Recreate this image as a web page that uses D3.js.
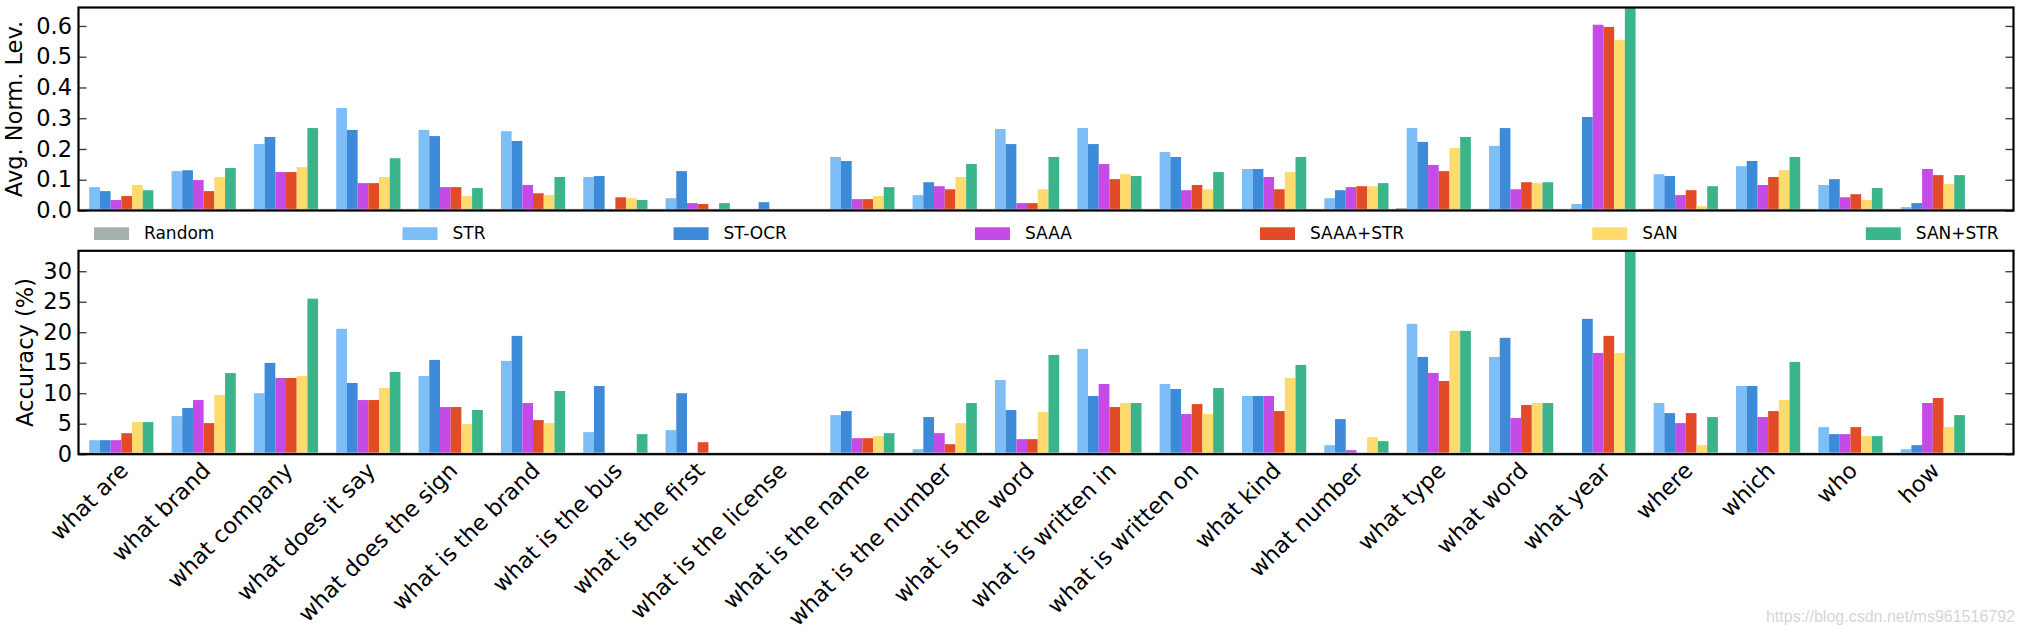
<!DOCTYPE html>
<html>
<head>
<meta charset="utf-8">
<script src="https://cdn.jsdelivr.net/npm/d3@7"></script>
<style>
  body { margin: 0; background: #fff; }
  svg { display: block; font-family: "DejaVu Sans", sans-serif; }
</style>
</head>
<body>
<svg width="2023" height="634"></svg>
<script>
const categories = ["what are", "what brand", "what company", "what does it say", "what does the sign",
  "what is the brand", "what is the bus", "what is the first", "what is the license", "what is the name",
  "what is the number", "what is the word", "what is written in", "what is written on", "what kind",
  "what number", "what type", "what word", "what year", "where", "which", "who", "how"];

const methods = ["Random", "STR", "ST-OCR", "SAAA", "SAAA+STR", "SAN", "SAN+STR"];
const colors = ["#a5b0ad", "#7cbef5", "#3d8bd8", "#c54be6", "#e24a28", "#fedb6c", "#3cb48a"];

// Avg. Norm. Levenshtein (top panel)
const levRandom  = [0, 0, 0, 0, 0, 0, 0, 0, 0, 0.003, 0, 0, 0, 0, 0, 0, 0.008, 0, 0, 0, 0, 0, 0];
const levSTR     = [0.076, 0.128, 0.216, 0.333, 0.262, 0.258, 0.109, 0.040, 0, 0.174, 0.050, 0.265, 0.268, 0.190, 0.135, 0.040, 0.268, 0.210, 0.021, 0.118, 0.144, 0.083, 0.011];
const levSTOCR   = [0.063, 0.131, 0.239, 0.262, 0.242, 0.226, 0.112, 0.128, 0.027, 0.161, 0.092, 0.216, 0.216, 0.174, 0.135, 0.066, 0.223, 0.268, 0.304, 0.112, 0.161, 0.102, 0.024];
const levSAAA    = [0.034, 0.099, 0.125, 0.089, 0.076, 0.083, 0, 0.024, 0, 0.037, 0.079, 0.024, 0.151, 0.066, 0.109, 0.076, 0.148, 0.069, 0.604, 0.050, 0.083, 0.043, 0.135];
const levSAAASTR = [0.047, 0.063, 0.125, 0.089, 0.076, 0.056, 0.043, 0.021, 0, 0.037, 0.069, 0.024, 0.102, 0.083, 0.069, 0.079, 0.128, 0.092, 0.597, 0.066, 0.109, 0.053, 0.115];
const levSAN     = [0.083, 0.109, 0.141, 0.109, 0.047, 0.050, 0.040, 0, 0, 0.047, 0.109, 0.069, 0.118, 0.069, 0.125, 0.079, 0.203, 0.089, 0.555, 0.014, 0.131, 0.034, 0.086];
const levSANSTR  = [0.066, 0.138, 0.268, 0.170, 0.073, 0.109, 0.034, 0.024, 0, 0.076, 0.151, 0.174, 0.112, 0.125, 0.174, 0.089, 0.239, 0.092, 0.66, 0.079, 0.174, 0.073, 0.115];

// Accuracy % (bottom panel)
const accRandom  = [0, 0, 0, 0, 0, 0, 0, 0, 0, 0, 0, 0, 0, 0, 0, 0, 0, 0, 0, 0, 0, 0, 0];
const accSTR     = [2.3, 6.25, 10.0, 20.56, 12.83, 15.3, 3.62, 3.95, 0, 6.41, 0.82, 12.17, 17.27, 11.51, 9.54, 1.48, 21.38, 15.95, 0, 8.39, 11.18, 4.44, 0.82];
const accSTOCR   = [2.3, 7.57, 14.97, 11.68, 15.46, 19.4, 11.18, 10.0, 0, 7.07, 6.09, 7.24, 9.54, 10.69, 9.54, 5.76, 15.95, 19.08, 22.2, 6.74, 11.18, 3.29, 1.48];
const accSAAA    = [2.3, 8.88, 12.5, 8.88, 7.73, 8.39, 0, 0, 0, 2.63, 3.45, 2.47, 11.51, 6.58, 9.54, 0.66, 13.32, 5.92, 16.6, 5.1, 6.09, 3.29, 8.39];
const accSAAASTR = [3.45, 5.1, 12.5, 8.88, 7.73, 5.59, 0, 1.97, 0, 2.63, 1.64, 2.47, 7.73, 8.22, 7.07, 0, 12.0, 8.06, 19.4, 6.74, 7.07, 4.44, 9.21];
const accSAN     = [5.26, 9.7, 12.83, 10.86, 4.93, 5.1, 0, 0, 0, 2.96, 5.1, 6.91, 8.39, 6.58, 12.5, 2.8, 20.23, 8.39, 16.6, 1.48, 8.88, 2.96, 4.44];
const accSANSTR  = [5.26, 13.3, 25.5, 13.49, 7.24, 10.36, 3.29, 0, 0, 3.45, 8.39, 16.28, 8.39, 10.86, 14.64, 2.14, 20.23, 8.39, 33.3, 6.09, 15.13, 2.96, 6.41];

const levTicks = [0, 0.1, 0.2, 0.3, 0.4, 0.5, 0.6];
const accTicks = [0, 5, 10, 15, 20, 25, 30];

const levSeries = [levRandom, levSTR, levSTOCR, levSAAA, levSAAASTR, levSAN, levSANSTR];
const accSeries = [accRandom, accSTR, accSTOCR, accSAAA, accSAAASTR, accSAN, accSANSTR];

const svg = d3.select("svg");
const left = 78.5, right = 2013.5;
const barW = 0.13;
const fontSize = 22.5;

const x = d3.scaleLinear().domain([0, 23.5]).range([left, right]);

function panel(series, top, bottom, ymax, ticks, fmt, label, labelX) {
  const y = d3.scaleLinear().domain([0, ymax]).range([bottom, top]);
  const g = svg.append("g");

  const clipId = "clip" + Math.round(top);
  g.append("clipPath").attr("id", clipId)
    .append("rect").attr("x", left).attr("y", top).attr("width", right - left).attr("height", bottom - top);

  const bars = g.append("g").attr("clip-path", `url(#${clipId})`);
  series.forEach((vals, k) => {
    bars.selectAll(null)
      .data(vals)
      .join("rect")
      .attr("x", (d, i) => x(i + k * barW))
      .attr("width", x(barW) - x(0))
      .attr("y", d => y(d))
      .attr("height", d => y(0) - y(d))
      .attr("fill", colors[k]);
  });

  // faint baseline
  g.append("line")
    .attr("x1", left).attr("x2", right)
    .attr("y1", y(0) - 1.2).attr("y2", y(0) - 1.2)
    .attr("stroke", "#bbb").attr("stroke-width", 1);

  const axL = g.append("g").attr("transform", `translate(${left},0)`)
    .call(d3.axisLeft(y).tickValues(ticks).tickFormat(fmt).tickSize(-8).tickPadding(6.5));
  axL.select(".domain").remove();
  axL.selectAll("text").attr("font-size", fontSize).attr("font-family", "DejaVu Sans").attr("fill", "#000");
  axL.selectAll("line").attr("stroke", "#333").attr("stroke-width", 1.3);

  const axR = g.append("g").attr("transform", `translate(${right},0)`)
    .call(d3.axisRight(y).tickValues(ticks).tickFormat("").tickSize(-8));
  axR.select(".domain").remove();
  axR.selectAll("line").attr("stroke", "#333").attr("stroke-width", 1.3);

  g.append("rect")
    .attr("x", left).attr("y", top).attr("width", right - left).attr("height", bottom - top)
    .attr("fill", "none").attr("stroke", "#000").attr("stroke-width", 2.2);

  g.append("text")
    .attr("transform", `translate(${labelX},${(top + bottom) / 2}) rotate(-90)`)
    .attr("text-anchor", "middle")
    .attr("font-size", fontSize)
    .text(label);

  return y;
}

panel(levSeries, 7.5, 210.5, 0.66, levTicks, d3.format(".1f"), "Avg. Norm. Lev.", 22);
const yAcc = panel(accSeries, 250.8, 454.2, 33.35, accTicks, d3.format("d"), "Accuracy (%)", 32.5);

// category labels under the bottom panel
svg.append("g").selectAll("text")
  .data(categories)
  .join("text")
  .attr("transform", (d, i) => `translate(${x(i + 0.62)},472) rotate(-45)`)
  .attr("text-anchor", "end")
  .attr("font-size", fontSize)
  .text(d => d);

// legend between the panels, spread over the full width
const legend = svg.append("g");
const items = legend.selectAll("g").data(methods).join("g");
items.append("rect").attr("width", 35).attr("height", 12.7).attr("y", 227.3)
  .attr("fill", (d, i) => colors[i]);
items.append("text").attr("x", 50).attr("y", 239.3).attr("font-size", 17).text(d => d);

const widths = [];
items.each(function () {
  widths.push(50 + d3.select(this).select("text").node().getComputedTextLength());
});
const legStart = 94, legEnd = 1998.5;
const gap = (legEnd - legStart - d3.sum(widths)) / (methods.length - 1);
let cx = legStart;
items.attr("transform", (d, i) => {
  const t = `translate(${cx},0)`;
  cx += widths[i] + gap;
  return t;
});

svg.append("text")
  .attr("x", 2015).attr("y", 622)
  .attr("text-anchor", "end")
  .attr("font-family", "Liberation Sans, Arial, sans-serif")
  .attr("font-size", 16)
  .attr("fill", "#d6d6d6")
  .text("https://blog.csdn.net/ms961516792");
</script>
</body>
</html>
